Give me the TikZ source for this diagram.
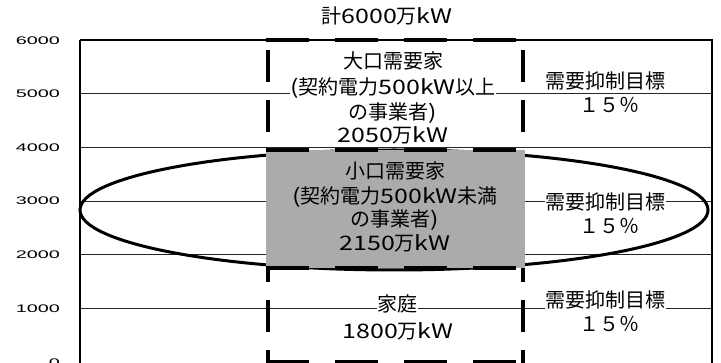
\documentclass[tikz,border=0pt]{standalone}
\usepackage{fontspec}
\setmainfont{Noto Sans CJK JP}
\newfontfamily\numfont{Liberation Sans}
\newcommand\lw[1]{\scalebox{1.25}[1]{#1}}
\begin{document}
\begin{tikzpicture}[x=1pt,y=-1pt,
  grid/.style={black!85,line width=0.8pt},
  frame/.style={black,line width=1.3pt},
  colh/.style={line width=4pt,dash pattern=on 43pt off 26pt},
  colv/.style={line width=4pt,dash pattern=on 32pt off 18pt,dash phase=40pt},
  jp/.style={font=\fontsize{20}{24}\selectfont,inner sep=0.5pt},
  wjp/.style={jp,fill=white},
  ylab/.style={font=\numfont\fontsize{11}{12}\selectfont,anchor=east,inner sep=0pt}]
\useasboundingbox (0,0) rectangle (721,363);
% gridlines
\foreach \yy in {93.7,147.4,201.1,254.8,308.5}
  \draw[grid] (80,\yy) -- (712,\yy);
% frame
\draw[frame] (80,40) -- (712,40) -- (712,366);
\draw[black,line width=2pt] (80,40) -- (80,366);
% y labels
\node[ylab] (y6) at (60,41) {\scalebox{1.8}[1]{6000}};
\node[ylab] (y5) at (60,93.7) {\scalebox{1.8}[1]{5000}};
\node[ylab] (y4) at (60,147.4) {\scalebox{1.8}[1]{4000}};
\node[ylab] (y3) at (60,201.1) {\scalebox{1.8}[1]{3000}};
\node[ylab] (y2) at (60,254.8) {\scalebox{1.8}[1]{2000}};
\node[ylab] (y1) at (60,308.5) {\scalebox{1.8}[1]{1000}};
\node[ylab] (y0) at (60,363) {\scalebox{1.8}[1]{0}};
% ellipse
\draw[line width=3pt] (394,210) ellipse [x radius=314, y radius=60];
% dashed column
\draw[colv] (268,40) -- (268,370);
\draw[colv] (523,40) -- (523,370);
\draw[colh] (266,40) -- (525,40);
\fill[black!33] (266,150) rectangle (525,268);
\draw[colh] (266,150) -- (525,150);
\draw[colh] (266,268) -- (525,268);
\draw[colh] (266,362) -- (525,362);
% title
\node[jp] (title) at (387,16) {計\lw{6000}万\lw{kW}};
% large customers
\node[wjp] (a1) at (393,61) {大口需要家};
\node[wjp] (a2) at (393,88) {\lw{(}契約電力\lw{500kW}以上};
\node[wjp] (a3) at (393,113) {の事業者\lw{)}};
\node[wjp] (a4) at (393,135) {\lw{2050}万\lw{kW}};
% small customers
\node[jp] (b1) at (395,171) {小口需要家};
\node[jp] (b2) at (395,197) {\lw{(}契約電力\lw{500kW}未満};
\node[jp] (b3) at (395,220) {の事業者\lw{)}};
\node[jp] (b4) at (395,243) {\lw{2150}万\lw{kW}};
% households
\node[wjp] (c1) at (397,304) {家庭};
\node[wjp] (c2) at (398,331) {\lw{1800}万\lw{kW}};
% targets
\node[wjp] (t1) at (605,81) {需要抑制目標};
\node[wjp] (p1) at (609,105) {１５％};
\node[wjp] (t2) at (605,202) {需要抑制目標};
\node[wjp] (p2) at (609,226) {１５％};
\node[wjp] (t3) at (605,300) {需要抑制目標};
\node[wjp] (p3) at (609,324) {１５％};
\end{tikzpicture}
\end{document}
